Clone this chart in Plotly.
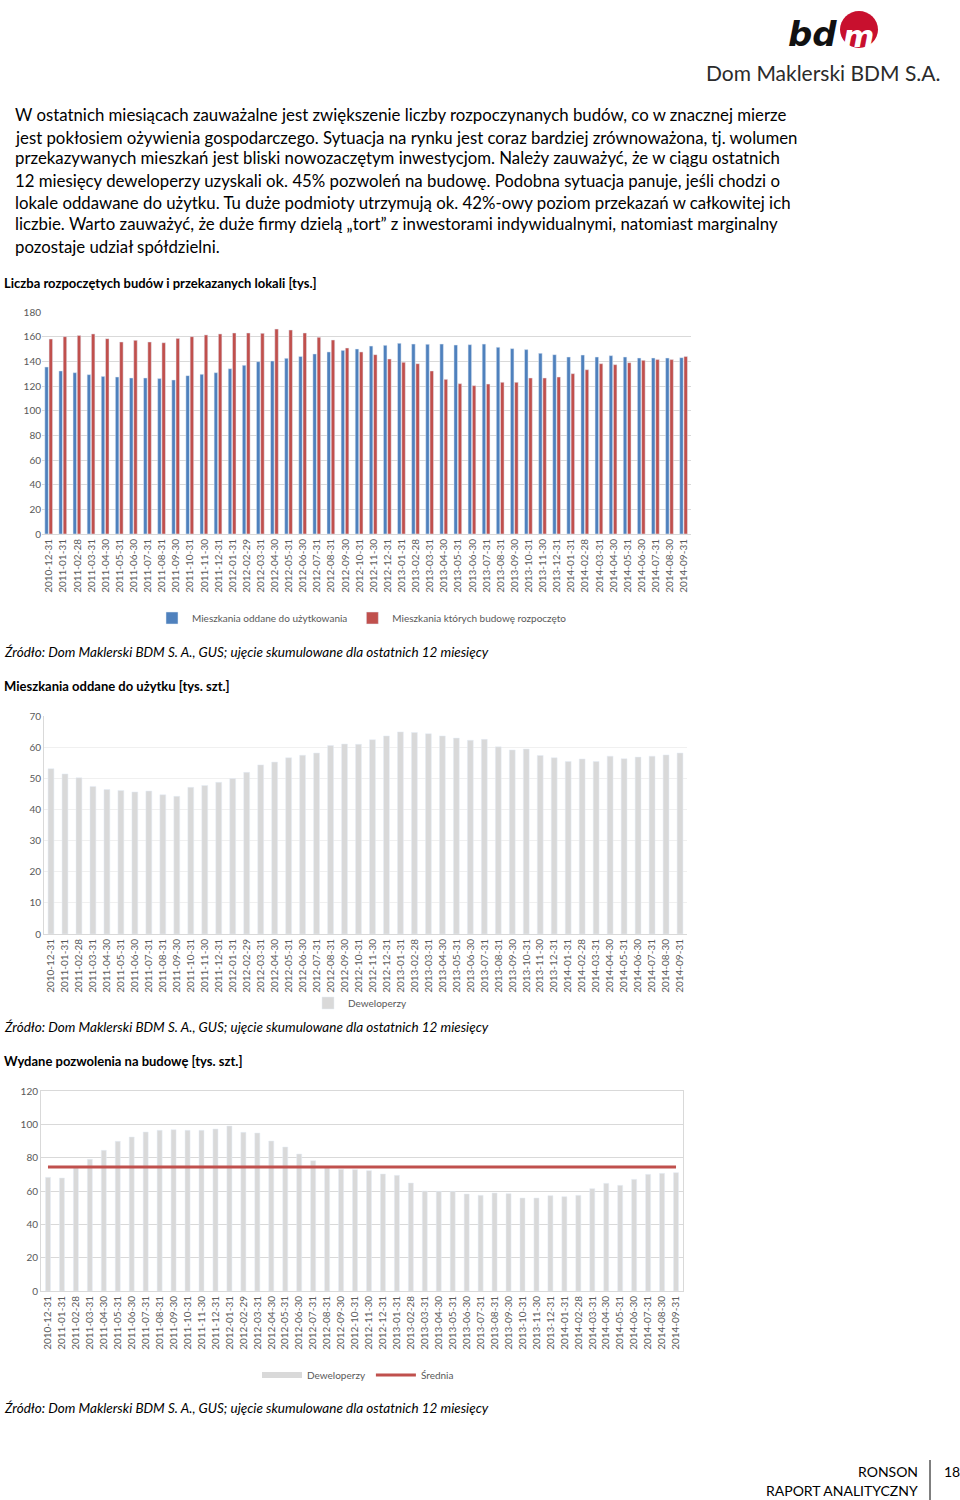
import plotly.graph_objects as go

# ---------------- data ----------------
months = ["2010-12-31", "2011-01-31", "2011-02-28", "2011-03-31", "2011-04-30", "2011-05-31",
          "2011-06-30", "2011-07-31", "2011-08-31", "2011-09-30", "2011-10-31", "2011-11-30",
          "2011-12-31", "2012-01-31", "2012-02-29", "2012-03-31", "2012-04-30", "2012-05-31",
          "2012-06-30", "2012-07-31", "2012-08-31", "2012-09-30", "2012-10-31", "2012-11-30",
          "2012-12-31", "2013-01-31", "2013-02-28", "2013-03-31", "2013-04-30", "2013-05-31",
          "2013-06-30", "2013-07-31", "2013-08-31", "2013-09-30", "2013-10-31", "2013-11-30",
          "2013-12-31", "2014-01-31", "2014-02-28", "2014-03-31", "2014-04-30", "2014-05-31",
          "2014-06-30", "2014-07-31", "2014-08-30", "2014-09-31"]

oddane = [135.4, 132.2, 130.8, 129.2, 127.8, 127.3, 126.5, 126.5, 126.0, 124.9, 128.4, 129.5,
          130.8, 134.0, 136.8, 139.7, 140.3, 142.4, 144.0, 146.0, 147.6, 148.9, 150.0, 152.4,
          153.0, 154.6, 154.0, 153.8, 154.0, 153.2, 153.5, 154.0, 151.4, 150.3, 149.5, 146.5,
          145.4, 143.5, 145.1, 143.5, 144.6, 143.5, 142.7, 142.7, 142.7, 143.0]

rozpoczete = [158.1, 160.0, 161.0, 162.2, 158.4, 155.7, 157.0, 155.7, 155.1, 158.6, 160.0, 161.4,
              162.2, 163.0, 163.0, 162.7, 166.2, 165.4, 163.0, 159.5, 157.3, 150.8, 147.6, 145.4,
              141.9, 139.2, 138.1, 132.2, 125.4, 121.9, 120.3, 121.6, 123.0, 123.0, 126.5, 126.5,
              127.3, 130.0, 133.2, 138.1, 137.3, 138.9, 140.8, 141.4, 141.4, 144.0]

deweloperzy_oddane = [53.1, 51.4, 50.2, 47.4, 46.4, 46.1, 45.6, 45.9, 44.7, 44.2, 47.1, 47.7,
                      48.7, 49.9, 51.9, 54.3, 55.2, 56.6, 57.4, 58.1, 60.5, 61.0, 60.9, 62.4,
                      63.6, 64.9, 64.7, 64.3, 63.6, 62.9, 62.2, 62.5, 60.1, 59.1, 59.4, 57.3,
                      56.6, 55.4, 56.2, 55.4, 57.1, 56.3, 56.8, 57.1, 57.5, 58.1]

deweloperzy_pozwolenia = [68.2, 67.8, 74.0, 79.0, 84.4, 89.8, 92.4, 95.4, 96.4, 96.8, 96.4, 96.4,
                          97.2, 99.0, 95.2, 94.8, 90.0, 86.4, 82.2, 78.2, 74.0, 73.0, 72.8, 72.2,
                          70.2, 69.4, 64.8, 60.0, 59.8, 59.8, 58.2, 57.4, 58.8, 58.4, 55.8, 55.8,
                          57.2, 56.6, 57.4, 61.4, 64.6, 63.4, 67.0, 70.0, 70.6, 71.0]

srednia = 74.4

paragraph = [
    "W ostatnich miesiącach zauważalne jest zwiększenie liczby rozpoczynanych budów, co w znacznej mierze",
    "jest pokłosiem ożywienia gospodarczego. Sytuacja na rynku jest coraz bardziej zrównoważona, tj. wolumen",
    "przekazywanych mieszkań jest bliski nowozaczętym inwestycjom. Należy zauważyć, że w ciągu ostatnich",
    "12 miesięcy deweloperzy uzyskali ok. 45% pozwoleń na budowę. Podobna sytuacja panuje, jeśli chodzi o",
    "lokale oddawane do użytku. Tu duże podmioty utrzymują ok. 42%-owy poziom przekazań w całkowitej ich",
    "liczbie. Warto zauważyć, że duże firmy dzielą „tort” z inwestorami indywidualnymi, natomiast marginalny",
    "pozostaje udział spółdzielni.",
]

title1 = "Liczba rozpoczętych budów i przekazanych lokali [tys.]"
title2 = "Mieszkania oddane do użytku [tys. szt.]"
title3 = "Wydane pozwolenia na budowę [tys. szt.]"
zrodlo = "Źródło: Dom Maklerski BDM S. A., GUS; ujęcie skumulowane dla ostatnich 12 miesięcy"

# ---------------- style ----------------
W, H = 960, 1500
FONT = "Lato, 'Open Sans', sans-serif"
BLUE = "#4f81bd"
RED = "#c0504d"
LGREY = "#d9d9d9"
TICK = "#595959"


def fx(x):
    return x / W


def fy(y):
    return 1 - y / H


fig = go.Figure()

# chart 1
fig.add_trace(go.Bar(x=months, y=oddane, name="Mieszkania oddane do użytkowania",
                     marker_color=BLUE, width=0.25, offset=-0.3,
                     xaxis="x", yaxis="y", legend="legend"))
fig.add_trace(go.Bar(x=months, y=rozpoczete, name="Mieszkania których budowę rozpoczęto",
                     marker_color=RED, width=0.25, offset=0.0,
                     xaxis="x", yaxis="y", legend="legend"))

# chart 2
fig.add_trace(go.Bar(x=months, y=deweloperzy_oddane, name="Deweloperzy",
                     marker_color=LGREY, width=0.42, xaxis="x2", yaxis="y2",
                     legend="legend2"))

# chart 3
fig.add_trace(go.Bar(x=months, y=deweloperzy_pozwolenia, name="Deweloperzy",
                     marker_color=LGREY, width=0.36, xaxis="x3", yaxis="y3",
                     showlegend=False))
fig.add_trace(go.Scatter(x=[months[0]], y=[None], mode="lines", name="Deweloperzy",
                         line=dict(color=LGREY, width=6), xaxis="x3", yaxis="y3",
                         legend="legend3", hoverinfo="skip"))
fig.add_trace(go.Scatter(x=[months[0], months[-1]], y=[srednia, srednia], mode="lines",
                         name="Średnia", line=dict(color=RED, width=3),
                         xaxis="x3", yaxis="y3", legend="legend3"))

xcommon = dict(type="category", tickangle=-90, tickfont=dict(family=FONT, size=10, color=TICK),
               showgrid=False, ticks="", range=[-0.5, 45.5], fixedrange=True, automargin=False)
ycommon = dict(tickfont=dict(family=FONT, size=10, color=TICK), ticks="", zeroline=False,
               fixedrange=True, automargin=False)

fig.update_layout(
    width=W, height=H,
    margin=dict(l=0, r=0, t=0, b=0, pad=0, autoexpand=False),
    paper_bgcolor="white", plot_bgcolor="white",
    barmode="overlay",
    showlegend=True,
    font=dict(family=FONT, color="#000"),
    xaxis=dict(domain=[fx(42), fx(691)], anchor="y", showline=True, linecolor=LGREY, **xcommon),
    yaxis=dict(domain=[fy(534), fy(312)], anchor="x", range=[0, 180], dtick=20,
               showgrid=True, gridcolor=LGREY, showline=False, **ycommon),
    xaxis2=dict(domain=[fx(44), fx(687)], anchor="y2", showline=True, linecolor=LGREY, **xcommon),
    yaxis2=dict(domain=[fy(934), fy(716)], anchor="x2", range=[0, 70], dtick=10,
                showgrid=True, gridcolor="#f0f0f0", showline=True, linecolor=LGREY, **ycommon),
    xaxis3=dict(domain=[fx(41), fx(683)], anchor="y3", showline=True, linecolor=LGREY,
                mirror=True, **xcommon),
    yaxis3=dict(domain=[fy(1291), fy(1091)], anchor="x3", range=[0, 120], dtick=20,
                showgrid=True, gridcolor=LGREY, showline=True, linecolor=LGREY, mirror=True,
                **ycommon),
    legend=dict(orientation="h", x=fx(362), xanchor="center", y=fy(618), yanchor="middle",
                font=dict(family=FONT, size=10, color=TICK), bgcolor="rgba(0,0,0,0)",
                itemwidth=30, tracegroupgap=0),
    legend2=dict(orientation="h", x=fx(360), xanchor="center", y=fy(1003), yanchor="middle",
                 font=dict(family=FONT, size=10, color=TICK), bgcolor="rgba(0,0,0,0)",
                 itemwidth=30),
    legend3=dict(orientation="h", x=fx(358), xanchor="center", y=fy(1375), yanchor="middle",
                 font=dict(family=FONT, size=10, color=TICK), bgcolor="rgba(0,0,0,0)",
                 itemwidth=40),
)

ann = []
# paragraph
para_y = [115, 137, 158, 180, 202, 224, 246]
for line, yy in zip(paragraph, para_y):
    ann.append(dict(text=line, x=fx(13), y=fy(yy), xanchor="left", yanchor="middle",
                    font=dict(family=FONT, size=16.8, color="#000")))

# titles and sources
for t, yy in [(title1, 283), (title2, 686), (title3, 1061)]:
    ann.append(dict(text="<b>" + t + "</b>", x=fx(2), y=fy(yy), xanchor="left", yanchor="middle",
                    font=dict(family=FONT, size=13, color="#000")))
for yy in [652, 1027, 1408]:
    ann.append(dict(text="<i>" + zrodlo + "</i>", x=fx(2), y=fy(yy), xanchor="left",
                    yanchor="middle", font=dict(family=FONT, size=13.5, color="#000")))

# header logo
ann.append(dict(text="<b><i>bd</i></b>", x=fx(839), y=fy(34), xanchor="right", yanchor="middle",
                font=dict(family="'DejaVu Sans', sans-serif", size=34, color="#111")))
ann.append(dict(text="<b><i>m</i></b>", x=fx(858), y=fy(36), xanchor="center", yanchor="middle",
                font=dict(family="'DejaVu Sans', sans-serif", size=30, color="white")))
ann.append(dict(text="Dom Maklerski BDM S.A.", x=fx(942), y=fy(72), xanchor="right",
                yanchor="middle", font=dict(family=FONT, size=21, color="#2b2b2b")))

# footer
ann.append(dict(text="RONSON", x=fx(920), y=fy(1471), xanchor="right", yanchor="middle",
                font=dict(family=FONT, size=14, color="#000")))
ann.append(dict(text="RAPORT ANALITYCZNY", x=fx(920), y=fy(1490), xanchor="right",
                yanchor="middle", font=dict(family=FONT, size=14, color="#000")))
ann.append(dict(text="18", x=fx(942), y=fy(1471), xanchor="left", yanchor="middle",
                font=dict(family=FONT, size=14, color="#000")))

for a in ann:
    a.update(xref="paper", yref="paper", showarrow=False)
fig.update_layout(annotations=ann)

shapes = [
    dict(type="circle", xref="paper", yref="paper", x0=fx(840), x1=fx(878), y0=fy(48), y1=fy(11),
         fillcolor="#c8102e", line=dict(width=0), layer="below"),
    dict(type="line", xref="paper", yref="paper", x0=fx(930), x1=fx(930), y0=fy(1460), y1=fy(1500),
         line=dict(color="#000", width=1)),
]
fig.update_layout(shapes=shapes)

post = ("document.documentElement.style.margin='0';document.documentElement.style.padding='0';"
        "document.documentElement.style.overflow='hidden';"
        "document.body.style.margin='0';document.body.style.padding='0';"
        "document.body.style.overflow='hidden';document.body.style.height='1500px';")
fig.write_html("out.html", config={"displayModeBar": False}, post_script=post)
